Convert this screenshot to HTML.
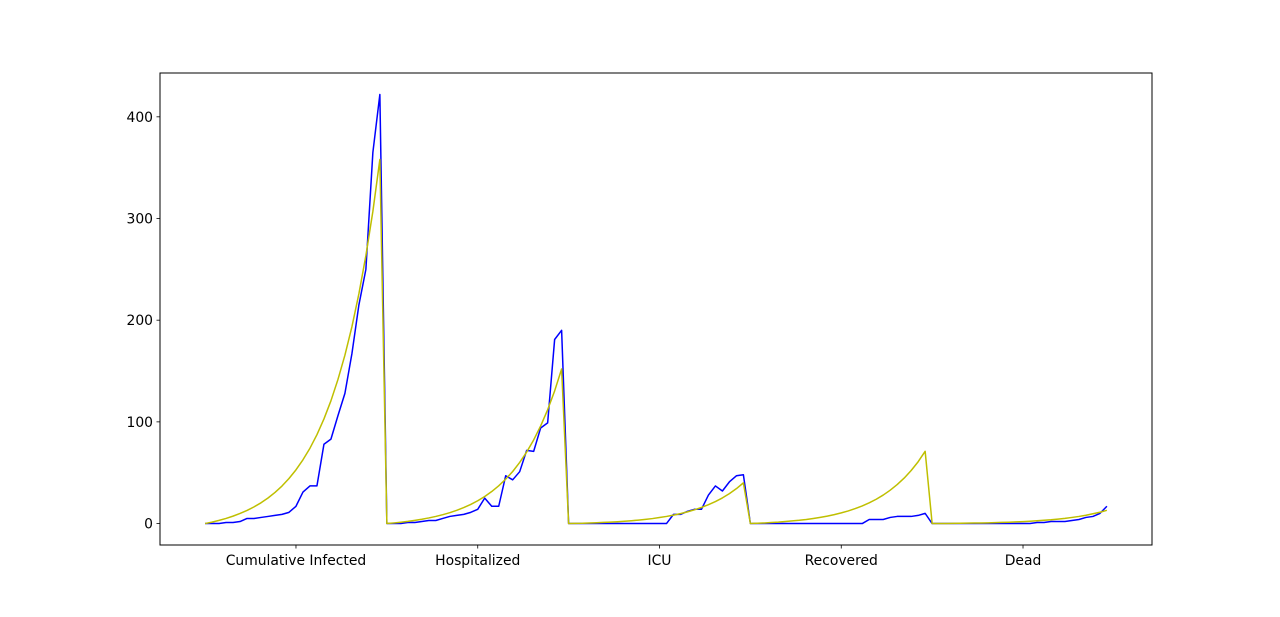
<!DOCTYPE html>
<html><head><meta charset="utf-8"><style>
html,body{margin:0;padding:0;background:#fff;}
svg text{font-family:"DejaVu Sans","Liberation Sans",sans-serif;font-size:13.9px;fill:#000;}
</style></head><body>
<svg id="chart" width="1280" height="612" xmlns="http://www.w3.org/2000/svg">
<rect x="0" y="0" width="1280" height="612" fill="#fff"/>
<g id="plot"></g>
</svg>
<script>
const categories = ["Cumulative Infected","Hospitalized","ICU","Recovered","Dead"];
const actualValues = [
0,0,0,1,1,2,5,5,6,7,8,9,11,17,31,37,37,78,83,106,128,167,215,250,365,422,
0,0,0,1,1,2,3,3,5,7,8,9,11,14,25,17,17,47,43,51,72,71,94,99,181,190,
0,0,0,0,0,0,0,0,0,0,0,0,0,0,0,9,9,12,14,14,28,37,32,41,47,48,
0,0,0,0,0,0,0,0,0,0,0,0,0,0,0,0,0,4,4,4,6,7,7,7,8,10,
0,0,0,0,0,0,0,0,0,0,0,0,0,0,0,1,1,2,2,2,3,4,6,7,10,17
];
const fittedValues = [
0,1.4,3.1,5.0,7.3,9.9,12.9,16.4,20.4,25.1,30.6,36.9,44.3,52.8,62.7,74.1,87.4,102.9,120.7,141.6,165.6,193.5,226,263.5,307,358,
0,0.6,1.3,2.1,3.1,4.2,5.5,7.0,8.7,10.7,13.0,15.7,18.8,22.4,26.6,31.5,37.1,43.7,51.2,60.1,70.3,82.2,96.0,111.9,130.4,152,
0,0.2,0.3,0.6,0.8,1.1,1.4,1.8,2.3,2.8,3.4,4.1,4.9,5.9,7.0,8.3,9.8,11.5,13.5,15.8,18.5,21.6,25.2,29.4,34.3,40,
0,0.3,0.6,1.0,1.4,2.0,2.6,3.2,4.0,5.0,6.1,7.3,8.8,10.5,12.4,14.7,17.3,20.4,23.9,28.0,32.8,38.3,44.7,52.2,60.8,71,
0,0.05,0.1,0.2,0.3,0.4,0.5,0.6,0.7,0.9,1.1,1.3,1.6,1.9,2.3,2.7,3.2,3.7,4.4,5.1,6.0,7.0,8.2,9.6,11.1,13
];
const yTicks = [0,100,200,300,400];
const perCategory = 26;

const NS="http://www.w3.org/2000/svg";
const g=document.getElementById('plot');
const L=160,R=1152,T=73,B=545;
const n=actualValues.length;
const allV=actualValues.concat(fittedValues);
const vmin=Math.min(...allV), vmax=Math.max(...allV);
const xpad=(n-1)*0.05, ypad=(vmax-vmin)*0.05;
const xs=i=>L+(i+xpad)/((n-1)+2*xpad)*(R-L);
const ys=v=>B-(v-vmin+ypad)/((vmax-vmin)+2*ypad)*(B-T);
function mk(tag,attrs){const e=document.createElementNS(NS,tag);for(const k in attrs)e.setAttribute(k,attrs[k]);g.appendChild(e);return e;}

function line(vals,color,name){
  const d=vals.map((v,i)=>(i?'L':'M')+xs(i).toFixed(2)+','+ys(v).toFixed(2)).join(' ');
  const p=mk('path',{d:d,fill:'none',stroke:color,'stroke-width':1.5,'stroke-linejoin':'round'});
  
  
}
line(actualValues,'#0000ff','actual-series-line');
line(fittedValues,'#bfbf00','fitted-series-line');

const frame=mk('rect',{x:L,y:T,width:R-L,height:B-T,fill:'none',stroke:'#000','stroke-width':1});



yTicks.forEach(t=>{
  const y=ys(t);
  const tk=mk('line',{x1:L-3.5,x2:L,y1:y,y2:y,stroke:'#000','stroke-width':0.8});
  
  
  const tx=mk('text',{x:L-7,y:y+5,'text-anchor':'end'});
  tx.textContent=t;
  
  
});
categories.forEach((c,j)=>{
  const x=xs(j*perCategory+Math.floor(perCategory/2));
  const tk=mk('line',{x1:x,x2:x,y1:B,y2:B+3.5,stroke:'#000','stroke-width':0.8});
  
  
  const tx=mk('text',{x:x,y:B+20,'text-anchor':'middle'});
  tx.textContent=c;
  
  
});
</script>
</body></html>
